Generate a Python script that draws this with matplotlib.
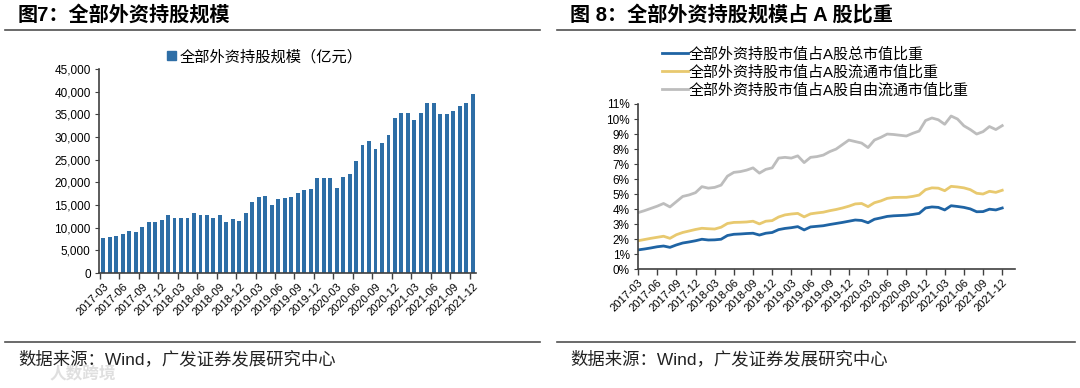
import matplotlib.pyplot as plt
import numpy as np
from matplotlib.lines import Line2D
from matplotlib.patches import Patch

plt.rcParams['font.family'] = ['Liberation Sans', 'Noto Sans CJK SC', 'DejaVu Sans']

# months 2017-03 .. 2021-12
months = [f'{y}-{m:02d}' for y in range(2017, 2022) for m in range(1, 13)][2:]

# 全部外资持股规模（亿元）
holdings = [7800, 7900, 8100, 8600, 9200, 9100, 10200, 11200, 11200, 11700,
            12900, 12100, 12100, 12100, 13300, 12700, 12900, 12100, 12700, 11200,
            11900, 11500, 13200, 15600, 16800, 17000, 15100, 16400, 16500, 16800,
            17600, 18400, 18600, 21000, 21000, 20900, 18800, 21200, 21800, 24600,
            28200, 29100, 27400, 28600, 30400, 34200, 35400, 35400, 33700, 35400,
            37600, 37600, 35100, 35100, 35700, 36900, 37500, 39500]

# share of A-share market value (%)
share_total = [1.29, 1.35, 1.42, 1.50, 1.55, 1.46, 1.62, 1.75, 1.82, 1.90,
               2.00, 1.95, 1.96, 2.00, 2.25, 2.33, 2.35, 2.38, 2.40, 2.28,
               2.40, 2.45, 2.64, 2.72, 2.77, 2.84, 2.62, 2.82, 2.86, 2.90,
               2.98, 3.05, 3.12, 3.20, 3.28, 3.25, 3.10, 3.33, 3.42, 3.52,
               3.56, 3.58, 3.60, 3.65, 3.72, 4.08, 4.15, 4.12, 3.95, 4.23,
               4.18, 4.12, 4.02, 3.83, 3.84, 4.00, 3.95, 4.08]
share_float = [1.90, 1.98, 2.06, 2.13, 2.20, 2.06, 2.30, 2.45, 2.55, 2.65,
               2.73, 2.70, 2.68, 2.80, 3.05, 3.12, 3.13, 3.15, 3.20, 3.02,
               3.20, 3.24, 3.48, 3.62, 3.68, 3.72, 3.49, 3.69, 3.75, 3.80,
               3.90, 3.98, 4.08, 4.20, 4.35, 4.38, 4.17, 4.43, 4.55, 4.72,
               4.78, 4.79, 4.79, 4.85, 4.94, 5.30, 5.42, 5.40, 5.23, 5.52,
               5.48, 5.42, 5.30, 5.06, 5.01, 5.19, 5.12, 5.26]
share_free = [3.77, 3.90, 4.05, 4.20, 4.38, 4.15, 4.50, 4.85, 4.95, 5.10,
              5.50, 5.40, 5.45, 5.60, 6.20, 6.45, 6.50, 6.60, 6.75, 6.40,
              6.65, 6.75, 7.40, 7.45, 7.40, 7.55, 7.10, 7.45, 7.50, 7.60,
              7.83, 8.00, 8.30, 8.60, 8.50, 8.40, 8.10, 8.60, 8.78, 9.00,
              8.97, 8.92, 8.87, 9.05, 9.20, 9.90, 10.07, 9.95, 9.65, 10.20,
              10.00, 9.55, 9.30, 9.00, 9.16, 9.50, 9.30, 9.56]

line_labels = ['全部外资持股市值占A股总市值比重',
               '全部外资持股市值占A股流通市值比重',
               '全部外资持股市值占A股自由流通市值比重']
line_colors = ['#1f64a4', '#e8c96f', '#bdbdbd']

fig = plt.figure(figsize=(10.8, 3.88), dpi=100)
x = np.arange(len(months))
tick_idx = x[::3]
axis_col = '#404040'

# ---------------- left: bar chart ----------------
ax1 = fig.add_axes([99 / 1080, 1 - 273 / 388, 377 / 1080, 204 / 388])
ax1.bar(x, holdings, width=0.6, color='#2e6ea6')
ax1.set_xlim(-0.65, len(months) - 0.5)
ax1.set_ylim(0, 45000)
ax1.set_yticks(range(0, 45001, 5000))
ax1.set_yticklabels([f'{v:,}' for v in range(0, 45001, 5000)], fontsize=8.5)
ax1.set_xticks(tick_idx)
ax1.set_xticklabels([months[i] for i in tick_idx], rotation=45, ha='right',
                    rotation_mode='anchor', fontsize=8)
ax1.tick_params(axis='x', length=0, pad=6)
ax1.set_xticks(tick_idx - 0.5, minor=True)
ax1.tick_params(axis='x', which='minor', length=4, color=axis_col, width=1)
ax1.tick_params(axis='y', length=3, color=axis_col, pad=3)
for s in ['top', 'right']:
    ax1.spines[s].set_visible(False)
for s in ['left', 'bottom']:
    ax1.spines[s].set_color(axis_col)
    ax1.spines[s].set_linewidth(1.2)
fig.legend(handles=[Patch(color='#2e6ea6', label='全部外资持股规模（亿元）')],
           loc='center', bbox_to_anchor=(265 / 1080, 1 - 57 / 388),
           frameon=False, fontsize=11, handlelength=0.55, handleheight=0.55,
           handletextpad=0.25, borderpad=0)

# ---------------- right: line chart ----------------
ax2 = fig.add_axes([638 / 1080, 1 - 269.3 / 388, 377 / 1080, 165.3 / 388])
for vals, lab, col in zip([share_total, share_float, share_free], line_labels, line_colors):
    ax2.plot(x, np.array(vals) / 100, color=col, lw=2, label=lab)
ax2.set_xlim(0, len(months) + 1)
ax2.set_ylim(0, 0.11)
ax2.set_yticks(np.arange(0, 0.111, 0.01))
ax2.set_yticklabels([f'{i}%' for i in range(12)], fontsize=8.5)
ax2.set_xticks(tick_idx)
ax2.set_xticklabels([months[i] for i in tick_idx], rotation=45, ha='right',
                    rotation_mode='anchor', fontsize=8)
ax2.tick_params(axis='x', length=4, color=axis_col, width=1, pad=2)
ax2.tick_params(axis='y', length=3, color=axis_col, pad=3)
for s in ['top', 'right']:
    ax2.spines[s].set_visible(False)
for s in ['left', 'bottom']:
    ax2.spines[s].set_color(axis_col)
    ax2.spines[s].set_linewidth(1.2)
fig.legend(handles=ax2.get_lines(), loc='upper left',
           bbox_to_anchor=(662 / 1080, 1 - 47 / 388), frameon=False,
           fontsize=10.8, handlelength=1.7, handletextpad=0.1,
           labelspacing=0.25, borderpad=0, borderaxespad=0)

# ---------------- titles, rules, sources ----------------
fig.text(18 / 1080, 1 - 15 / 388, '图7：全部外资持股规模', fontsize=14.5,
         fontweight='bold', va='center', ha='left')
fig.text(570 / 1080, 1 - 15 / 388, '图 8：全部外资持股规模占 A 股比重', fontsize=14.5,
         fontweight='bold', va='center', ha='left')
for x0, x1 in [(5, 540), (557, 1075)]:
    fig.add_artist(Line2D([x0 / 1080, x1 / 1080], [1 - 30 / 388] * 2,
                          color='#505050', lw=1.2))
    fig.add_artist(Line2D([x0 / 1080, x1 / 1080], [1 - 342 / 388] * 2,
                          color='#505050', lw=1.2))
for x0 in [18, 570]:
    fig.text(x0 / 1080, 1 - 359 / 388, '数据来源：Wind，广发证券发展研究中心',
             fontsize=12.5, va='center', ha='left', color='#222222')
fig.text(50 / 1080, 1 - 374 / 388, '人数跨境', fontsize=12, color='#d8d8d8',
         va='center', ha='left', fontweight='bold', alpha=0.8)

fig.savefig('out.png', dpi=100)
